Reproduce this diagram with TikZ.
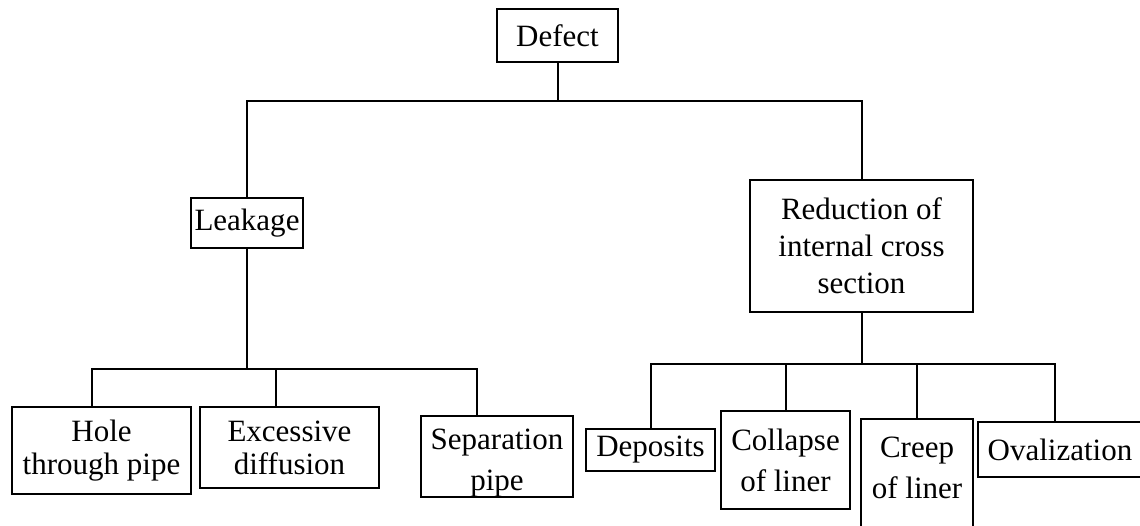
\documentclass[tikz,border=0pt]{standalone}
\usepackage{fontspec}
\setmainfont{Liberation Serif}
\usepackage{tikz}
\usetikzlibrary{calc}

\begin{document}
\begin{tikzpicture}[x=0.5pt,y=-0.5pt,line width=1pt,
    box/.style={draw,inner sep=0pt,align=center,font=\fontsize{15.5}{16.5}\selectfont},
    frame/.style={draw,inner sep=0pt},
    txt/.style={inner sep=0pt,align=center},
    wide/.style={font=\fontsize{15.5}{20.5}\selectfont}]
\useasboundingbox (0,0) rectangle (1140,525);
\node[box,minimum width=60.5pt,minimum height=26.5pt] (defect) at (557.5,35.5) {Defect};
\node[box,minimum width=56pt,minimum height=25pt] (leak) at (247,223) {Leakage};
\node[box,minimum width=111.5pt,minimum height=66pt,font=\fontsize{15.5}{18.5}\selectfont] (red) at (861.5,246) {Reduction of\\internal cross\\section};
\node[box,minimum width=89.5pt,minimum height=43.5pt] (hole) at (101.5,450.5) {Hole\\through pipe};
\node[box,minimum width=89.5pt,minimum height=40.5pt] (exc) at (289.5,447.5) {Excessive\\diffusion};
\node[frame,minimum width=76pt,minimum height=40.5pt] (sepbox) at (497,456.5) {};
\node[txt,wide] (sep) at (497,463) {Separation\\pipe};
\node[box,minimum width=64.5pt,minimum height=21pt] (dep) at (650.5,450) {Deposits};
\node[box,wide,minimum width=64.5pt,minimum height=49pt] (col) at (785.5,460) {Collapse\\of liner};
\node[frame,minimum width=56pt,minimum height=70.5pt] (creepbox) at (917,489.5) {};
\node[txt,wide] (creep) at (917,468) {Creep\\of liner};
\node[box,minimum width=82pt,minimum height=27.5pt] (oval) at (1060,449.5) {Ovalization};
\coordinate (topbus) at (559,101);
\coordinate (lbus) at (247,369);
\coordinate (rbus) at (863,364);
\draw (defect.south) -- (defect.south |- topbus);
\draw (leak.north) |- (topbus) -| (red.north);
\draw (leak.south) -- (leak.south |- lbus);
\draw ([xshift=-4.75pt]hole.north) |- (lbus) -| ([xshift=-10pt]sepbox.north);
\draw ([xshift=-6.75pt]exc.north) -- ([xshift=-6.75pt]exc.north |- lbus);
\draw (red.south) -- (red.south |- rbus);
\draw (dep.north) |- (rbus) -| ([xshift=-2.5pt]oval.north);
\draw (col.north) -- (col.north |- rbus);
\draw (creepbox.north) -- (creepbox.north |- rbus);
\end{tikzpicture}
\end{document}
